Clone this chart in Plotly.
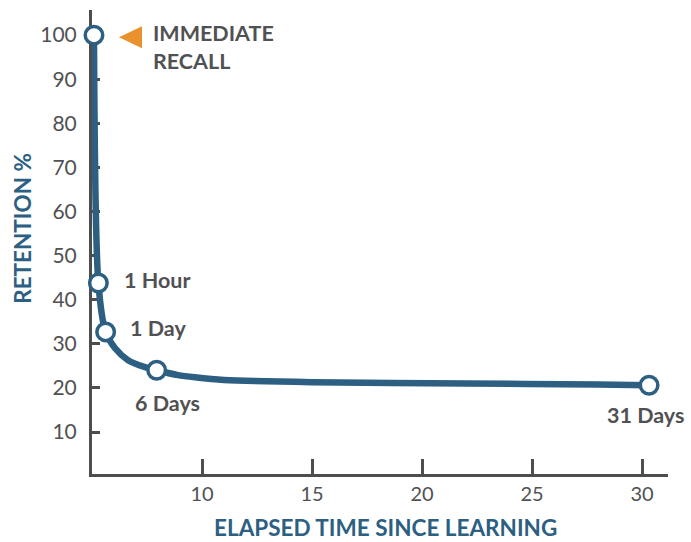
import plotly.graph_objects as go

# Retention checkpoints (elapsed time on the chart's x scale, retention %)
point_labels = ["IMMEDIATE<br>RECALL", "1 Hour", "1 Day", "6 Days", "31 Days"]
point_x = [5.09, 5.29, 5.62, 7.94, 30.32]
point_y = [100, 43.8, 32.7, 24.0, 20.6]

# Forgetting curve traced through the checkpoints
curve_x = [5.09, 5.29, 5.62, 6.05, 6.64, 7.41, 7.94, 8.91, 9.68, 11.0, 15.0, 22.0, 28.0, 30.32]
curve_y = [100, 43.8, 32.7, 29.0, 26.3, 24.7, 24.0, 22.9, 22.4, 21.8, 21.3, 21.0, 20.8, 20.6]

x_ticks = [10, 15, 20, 25, 30]
y_ticks = [10, 20, 30, 40, 50, 60, 70, 80, 90, 100]

BLUE = "#2c5f82"
GRAY = "#505153"
AXIS = "#4d4d4d"
ORANGE = "#e8912d"
FONT = "Lato"

fig = go.Figure()
fig.add_trace(go.Scatter(
    x=curve_x, y=curve_y, mode="lines",
    line=dict(color=BLUE, width=6.5, shape="spline", smoothing=0.8),
    hoverinfo="skip", showlegend=False,
))
fig.add_trace(go.Scatter(
    x=point_x, y=point_y, mode="markers",
    marker=dict(size=17.5, color="white", line=dict(color=BLUE, width=3.5)),
    showlegend=False, cliponaxis=False,
))

# Point labels: (xshift, yshift, xanchor)
label_pos = [
    (57, -12, "left"),
    (24, 3, "left"),
    (22, 4, "left"),
    (11, -33, "center"),
    (-4, -30, "center"),
]
for lbl, x, y, (dx, dy, xa) in zip(point_labels, point_x, point_y, label_pos):
    fig.add_annotation(
        x=x, y=y, xref="x", yref="y", text=f"<b>{lbl}</b>", showarrow=False,
        xanchor=xa, yanchor="middle", xshift=dx, yshift=dy,
        align="left", font=dict(family=FONT, size=21.5, color=GRAY),
    )

# Orange pointer beside the immediate-recall point
fig.add_shape(
    type="path", xref="x", yref="y",
    xsizemode="pixel", ysizemode="pixel",
    xanchor=point_x[0], yanchor=point_y[0],
    path="M 25 -2 L 48 9 L 48 -13 Z",
    fillcolor=ORANGE, line=dict(width=0),
)

# Axis titles
fig.add_annotation(
    x=0.51, y=-0.116, xref="paper", yref="paper", showarrow=False,
    text="<b>ELAPSED TIME SINCE LEARNING</b>", xanchor="center", yanchor="middle",
    font=dict(family=FONT, size=22.5, color=BLUE),
)
fig.add_annotation(
    x=-0.122, y=0.53, xref="paper", yref="paper", showarrow=False,
    text="<b>RETENTION %</b>", textangle=-90, xanchor="center", yanchor="middle",
    font=dict(family=FONT, size=22.5, color=BLUE),
)

fig.update_layout(
    width=691, height=542,
    margin=dict(l=92, r=23, t=10, b=68),
    paper_bgcolor="white", plot_bgcolor="white",
    font=dict(family=FONT, color=GRAY),
    xaxis=dict(
        range=[5.0, 31.18], tickvals=x_ticks, showgrid=False, zeroline=False,
        showline=True, linecolor=AXIS, linewidth=3, layer="below traces",
        ticks="inside", ticklen=15, tickwidth=3, tickcolor=AXIS,
        tickfont=dict(family=FONT, size=20, color=GRAY),
    ),
    yaxis=dict(
        range=[0.48, 105.7], tickvals=y_ticks, showgrid=False, zeroline=False,
        showline=True, linecolor=AXIS, linewidth=3, layer="below traces",
        ticks="inside", ticklen=8, tickwidth=3, tickcolor=AXIS,
        tickfont=dict(family=FONT, size=21, color=GRAY),
        ticklabelstandoff=8,
    ),
)

fig.write_html("out.html")
